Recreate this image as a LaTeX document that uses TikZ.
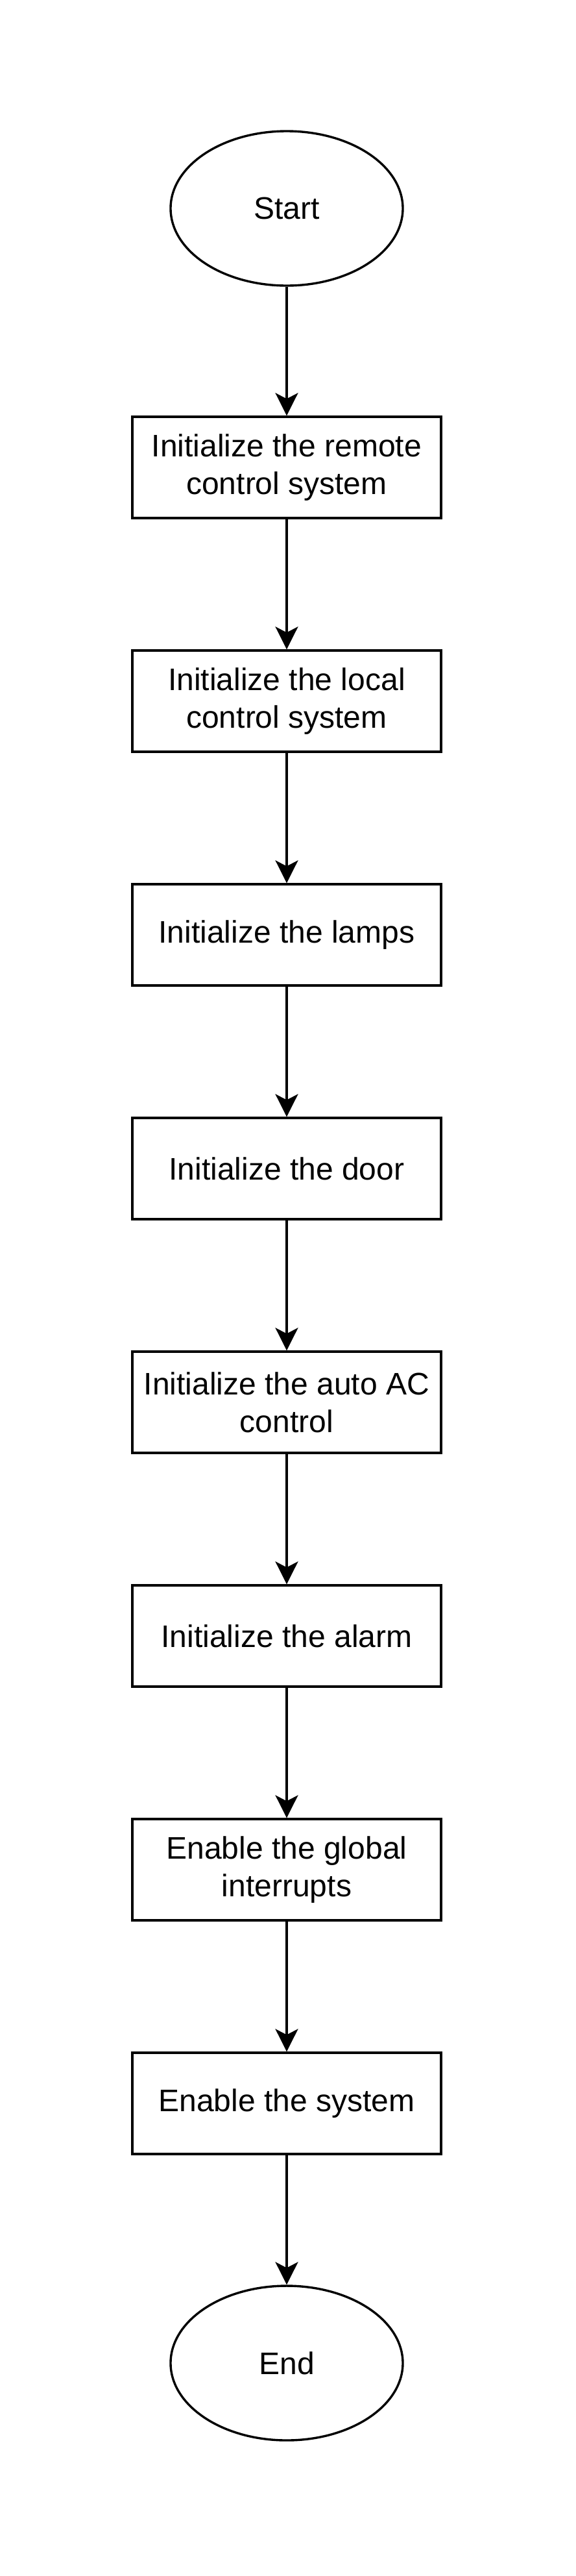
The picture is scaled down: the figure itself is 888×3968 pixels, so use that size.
\documentclass[tikz,border=0pt]{standalone}
\usepackage{fontspec}
\setmainfont{Liberation Sans}
\usetikzlibrary{arrows.meta,shapes.geometric}
\begin{document}
\begin{tikzpicture}[x=0.5pt,y=-0.5pt,
  box/.style={draw, line width=1.7pt, minimum width=238pt, minimum height=78pt, inner sep=0pt, align=center, font=\fontsize{24}{29}\selectfont},
  term/.style={draw, ellipse, line width=1.7pt, minimum width=179pt, minimum height=119pt, inner sep=0pt, font=\fontsize{24}{29}\selectfont},
  flow/.style={-{Stealth[length=17.5pt,width=17.5pt,inset=4.5pt]}, line width=1.7pt}]
\useasboundingbox (0,0) rectangle (888,3968);
\node[term] (start) at (442,321) {Start};
\node[box] (b1) at (442,720) {Initialize the remote\\control system};
\node[box] (b2) at (442,1080) {Initialize the local\\control system};
\node[box] (b3) at (442,1440) {Initialize the lamps};
\node[box] (b4) at (442,1800) {Initialize the door};
\node[box] (b5) at (442,2160) {Initialize the auto AC\\control};
\node[box] (b6) at (442,2520) {Initialize the alarm};
\node[box] (b7) at (442,2880) {Enable the global\\interrupts};
\node[box] (b8) at (442,3240) {Enable the system};
\node[term] (end) at (442,3640) {End};
\draw[flow] (start) -- (b1);
\draw[flow] (b1) -- (b2);
\draw[flow] (b2) -- (b3);
\draw[flow] (b3) -- (b4);
\draw[flow] (b4) -- (b5);
\draw[flow] (b5) -- (b6);
\draw[flow] (b6) -- (b7);
\draw[flow] (b7) -- (b8);
\draw[flow] (b8) -- (end);
\end{tikzpicture}
\end{document}
